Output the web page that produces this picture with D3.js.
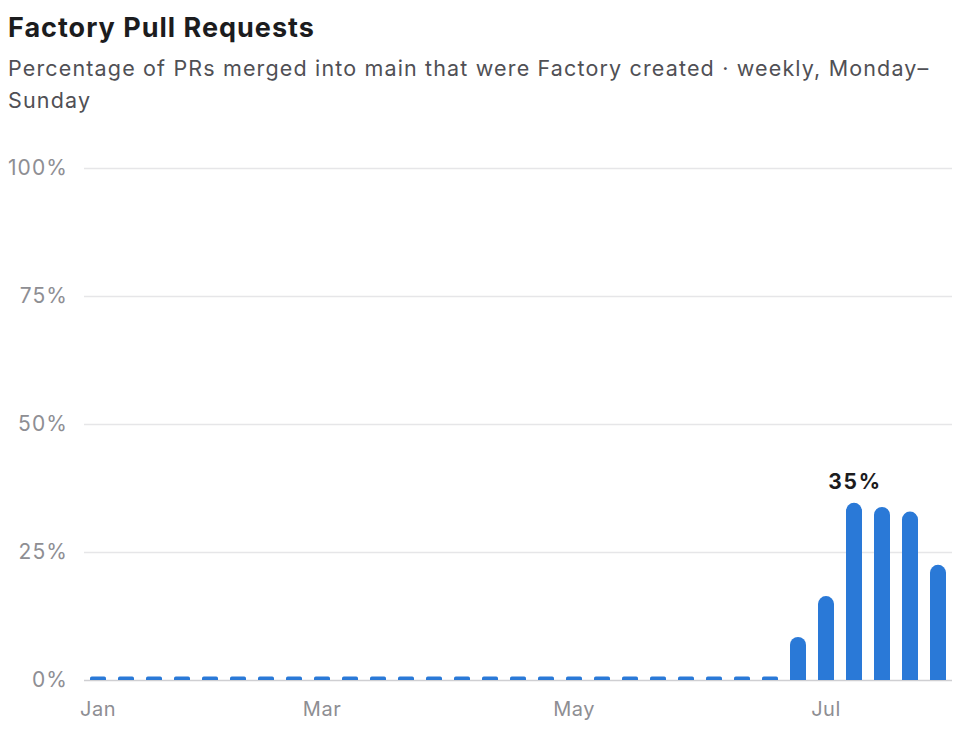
<!DOCTYPE html>
<html>
<head>
<meta charset="utf-8">
<script src="https://cdn.jsdelivr.net/npm/d3@7"></script>
<style>
  html, body { margin: 0; padding: 0; background: #fff; }
  svg { display: block; font-family: Inter, "Noto Sans", sans-serif; }
</style>
</head>
<body>
<div id="container"></div>
<script>
// weekly buckets, Monday start
const weeks = [
    "2024-01-01", "2024-01-08", "2024-01-15", "2024-01-22", "2024-01-29",
    "2024-02-05", "2024-02-12", "2024-02-19", "2024-02-26", "2024-03-04",
    "2024-03-11", "2024-03-18", "2024-03-25", "2024-04-01", "2024-04-08",
    "2024-04-15", "2024-04-22", "2024-04-29", "2024-05-06", "2024-05-13",
    "2024-05-20", "2024-05-27", "2024-06-03", "2024-06-10", "2024-06-17",
    "2024-06-24", "2024-07-01", "2024-07-08", "2024-07-15", "2024-07-22",
    "2024-07-29"
];

// % of merged PRs created by Factory
const values = [
    0, 0, 0, 0, 0, 0, 0, 0, 0, 0,
    0, 0, 0, 0, 0, 0, 0, 0, 0, 0,
    0, 0, 0, 0, 0, 8.4, 16.4, 34.6, 33.8, 32.9,
    22.5
];

const yTicks = [0, 25, 50, 75, 100];
const xTickWeeks = ["2024-01-01", "2024-02-26", "2024-04-29", "2024-07-01"];
const xTickLabels = ["Jan", "Mar", "May", "Jul"];

const title = "Factory Pull Requests";
const subtitleLines = [
    "Percentage of PRs merged into main that were Factory created \u00b7 weekly, Monday\u2013",
    "Sunday"
];

const width = 976;
const height = 746;
const plotLeft = 84;
const plotRight = 952;
const plotTop = 168;
const plotBottom = 680;
const stub = 3.5;

const data = weeks.map((w, i) => ({ week: w, value: values[i] }));

const x = d3.scaleBand()
    .domain(weeks)
    .range([plotLeft, plotRight])
    .paddingInner(12 / 28)
    .paddingOuter(6 / 28);

const y = d3.scaleLinear().domain([0, 100]).range([plotBottom, plotTop]);

const svg = d3.select('#container').append('svg')
    .attr('width', width)
    .attr('height', height);

svg.append('text')
    .attr('x', 8)
    .attr('y', 37)
    .style('font-size', '27px')
    .style('font-weight', 700)
    .style('fill', '#1c1c1e')
    .style('letter-spacing', '1px')
    .text(title);

svg.append('text')
    .attr('x', 8)
    .attr('y', 76)
    .style('font-size', '21.5px')
    .style('fill', '#505055')
    .style('letter-spacing', '1.15px')
    .selectAll('tspan').data(subtitleLines).enter().append('tspan')
    .attr('x', 8)
    .attr('dy', (d, i) => i ? 32 : 0)
    .text((d) => d);

// y grid + labels
const yAxis = svg.append('g')
    .attr('transform', `translate(${plotLeft} 0)`)
    .call(d3.axisLeft(y)
        .tickValues(yTicks)
        .tickFormat((d) => d + '%')
        .tickSize(-(plotRight - plotLeft))
        .tickPadding(16));

yAxis.select('.domain').remove();
yAxis.selectAll('.tick line')
    .attr('stroke', (d) => d === 0 ? '#cfcfd2' : '#e6e6e8')
    .attr('stroke-width', 1.5);
yAxis.selectAll('.tick text')
    .style('font-size', '21px')
    .style('letter-spacing', '1.1px')
    .style('font-family', 'Inter, "Noto Sans", sans-serif')
    .style('fill', '#8e8e93');

// x labels
const xAxis = svg.append('g')
    .attr('transform', `translate(0 ${plotBottom})`)
    .call(d3.axisBottom(x)
        .tickValues(xTickWeeks)
        .tickFormat((d) => xTickLabels[xTickWeeks.indexOf(d)])
        .tickSize(0)
        .tickPadding(22));

xAxis.select('.domain').remove();
xAxis.selectAll('.tick text')
    .style('font-size', '20px')
    .style('letter-spacing', '0.5px')
    .style('font-family', 'Inter, "Noto Sans", sans-serif')
    .style('fill', '#8e8e93');

// bars with rounded tops
const bw = x.bandwidth();
const barPath = (d) => {
    const h = Math.max(stub, plotBottom - y(d.value));
    const r = Math.min(bw / 2, h / 2);
    const x0 = x(d.week);
    const y0 = plotBottom - h;
    return `M${x0},${plotBottom}V${y0 + r}` +
        `A${r},${r} 0 0 1 ${x0 + r},${y0}` +
        `H${x0 + bw - r}` +
        `A${r},${r} 0 0 1 ${x0 + bw},${y0 + r}` +
        `V${plotBottom}Z`;
};

svg.append('g').selectAll('path').data(data).enter().append('path')
    .attr('d', barPath)
    .style('fill', '#2a79d7');

// label on the peak week
const peak = data.reduce((a, b) => b.value > a.value ? b : a);
svg.append('text')
    .attr('x', x(peak.week) + bw / 2 + 1)
    .attr('y', y(peak.value) - 14)
    .attr('text-anchor', 'middle')
    .style('font-size', '21px')
    .style('font-weight', 700)
    .style('fill', '#1c1c1e')
    .style('letter-spacing', '1.8px')
    .text(Math.round(peak.value) + '%');
</script>
</body>
</html>
